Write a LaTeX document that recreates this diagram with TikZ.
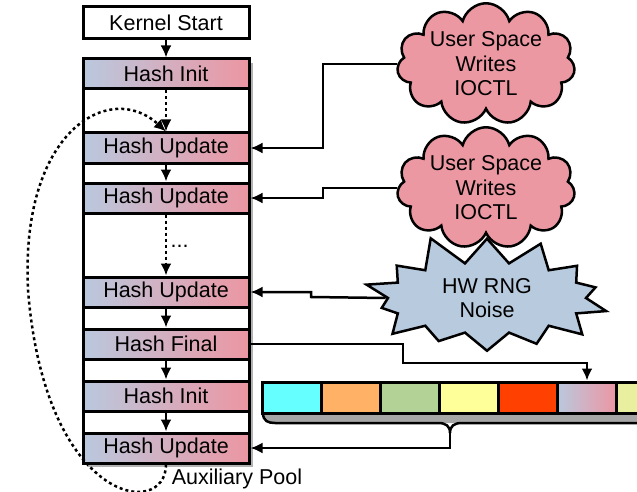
\documentclass[tikz,border=0pt]{standalone}
\usepackage{fontspec}
\setmainfont{Liberation Sans}
\usetikzlibrary{arrows.meta}
\usetikzlibrary{shapes.symbols}
\definecolor{boxblue}{RGB}{186,200,222}
\definecolor{boxpink}{RGB}{236,150,162}
\definecolor{cloudpink}{RGB}{236,152,162}
\definecolor{burstblue}{RGB}{184,202,222}
\definecolor{poolcyan}{RGB}{102,255,255}
\definecolor{poolorange}{RGB}{255,178,102}
\definecolor{poolgreen}{RGB}{178,210,150}
\definecolor{poolyellow}{RGB}{255,255,153}
\definecolor{poolred}{RGB}{255,64,0}
\definecolor{poollime}{RGB}{232,240,160}
\tikzset{
  hashbox/.style={draw, line width=3pt, left color=boxblue, right color=boxpink,
    minimum width=166pt, minimum height=30pt, inner sep=0pt},
  startbox/.style={draw, line width=3pt, fill=white,
    minimum width=166pt, minimum height=32pt, inner sep=0pt},
  flow/.style={line width=2.5pt, ->},
  dotline/.style={dash pattern=on 3pt off 3pt},
  usercloud/.style={cloud, cloud puffs=11, cloud ignores aspect, draw, line width=2.5pt,
    fill=cloudpink, minimum width=178pt, minimum height=115pt, align=center, inner sep=0pt},
  noiseburst/.style={starburst, starburst points=14, starburst point height=32pt,
    random starburst=11, draw, line width=2.5pt, fill=burstblue, align=center,
    minimum width=262pt, minimum height=135pt, inner sep=0pt},
  cell/.style={draw, line width=3pt, minimum width=59pt, minimum height=31pt, inner sep=0pt}
}
\begin{document}
\begin{tikzpicture}[x=1pt, y=-1pt, >={Latex[length=12pt,width=11pt]},
    font=\fontsize{21.5}{24.5}\selectfont]
  \useasboundingbox (0,0) rectangle (637,492);
  \clip (0,0) rectangle (637,492);

  \fill[black!30] (87,63) rectangle (253,467);
  \draw[line width=3pt, fill=white] (83,59) rectangle (249,463);

  \node[startbox] (ks) at (166,23) {Kernel Start};
  \node[hashbox] (hi1) at (166,74) {Hash Init};
  \node[hashbox] (hu1) at (166,148) {Hash Update};
  \node[hashbox] (hu2) at (166,198) {Hash Update};
  \node[hashbox] (hu3) at (166,292) {Hash Update};
  \node[hashbox] (hf) at (166,344) {Hash Final};
  \node[hashbox] (hi2) at (166,396) {Hash Init};
  \node[hashbox] (hu4) at (166,448) {Hash Update};

  \draw[flow] (ks) -- (hi1);
  \draw[flow, dotline] (hi1) -- (hu1);
  \draw[flow] (hu1) -- (hu2);
  \draw[flow, dotline] (hu2) -- (hu3) node [pos=0.55, right, yshift=2pt] {...};
  \draw[flow] (hu3) -- (hf);
  \draw[flow] (hf) -- (hi2);
  \draw[flow] (hi2) -- (hu4);

  \draw[flow, dotline] (hu4.south) .. controls (166,520) and (45,505) .. (28,290)
    .. controls (20,130) and (110,80) .. (hu1.north);
  \node (aux) at (237,479) {Auxiliary Pool};

  \node[noiseburst] (rng) at (487,298) {HW RNG\\Noise};
  \node[usercloud] (us1) at (486,64) {User Space\\Writes\\IOCTL};
  \node[usercloud] (us2) at (486,188) {User Space\\Writes\\IOCTL};

  \draw[flow] (us1.west) -- ++(-74,0) |- (hu1.east);
  \draw[flow] (us2.west) -- ++(-74,0) |- (hu2.east);
  \draw[flow] (rng.west) -- (311,297) |- (hu3.east);

  \fill[black!35] (263,413) .. controls (263,421) and (268,423) .. (275,423)
    -- (640,423) -- (640,413) -- cycle;
  \draw[line width=2.5pt] (263,413) .. controls (263,421) and (268,423) .. (275,423)
    -- (438,423) .. controls (446,423) and (450,426) .. (450,433)
    .. controls (450,426) and (454,423) .. (462,423) -- (640,423);
  \coordinate (tip) at (450,433);

  \node[cell, fill=poolcyan] (c1) at (292,397.5) {};
  \node[cell, fill=poolorange] (c2) at (351,397.5) {};
  \node[cell, fill=poolgreen] (c3) at (410,397.5) {};
  \node[cell, fill=poolyellow] (c4) at (469,397.5) {};
  \node[cell, fill=poolred] (c5) at (528,397.5) {};
  \node[cell, left color=boxblue, right color=boxpink] (c6) at (587,397.5) {};
  \node[cell, fill=poollime] (c7) at (646,397.5) {};

  \draw[flow] (hf.east) -| (403,363) -| (c6.north);
  \draw[flow] (tip) |- (hu4.east);
\end{tikzpicture}
\end{document}
